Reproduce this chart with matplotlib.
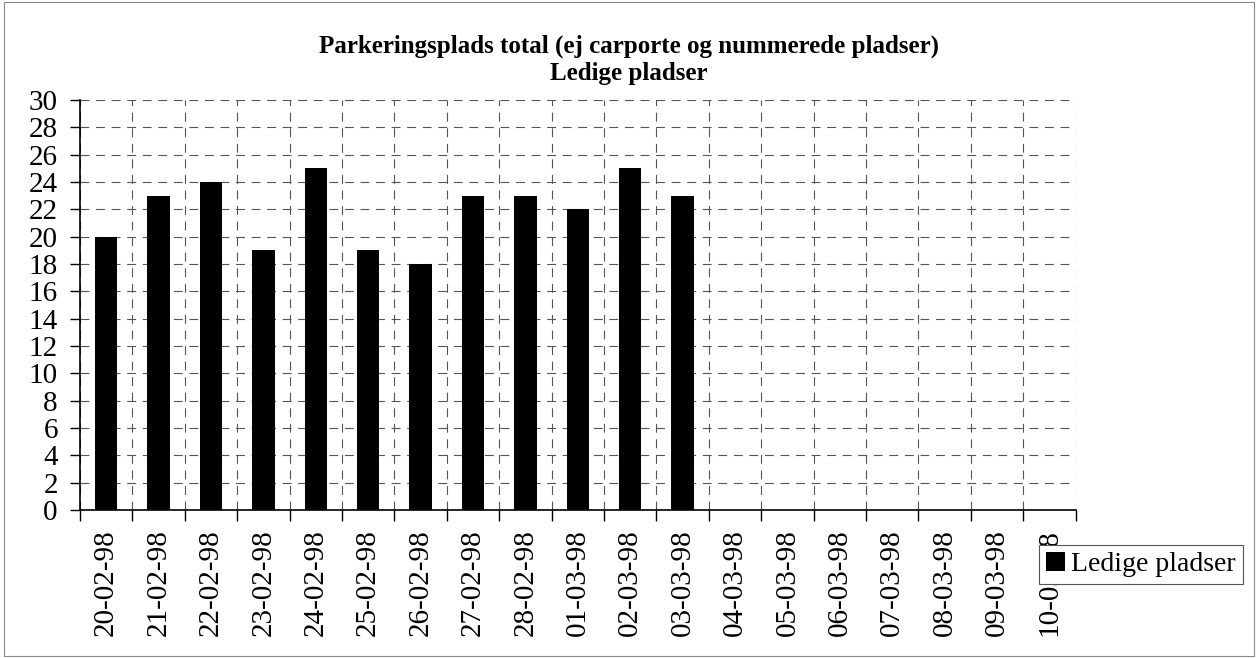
import numpy as np
import matplotlib
matplotlib.use("Agg")
import matplotlib.pyplot as plt
from matplotlib.patches import Rectangle

plt.rcParams['font.family'] = ['Liberation Serif', 'DejaVu Serif']

dates = ['20-02-98', '21-02-98', '22-02-98', '23-02-98', '24-02-98', '25-02-98',
         '26-02-98', '27-02-98', '28-02-98', '01-03-98', '02-03-98', '03-03-98',
         '04-03-98', '05-03-98', '06-03-98', '07-03-98', '08-03-98', '09-03-98',
         '10-03-98']
ledige = [20, 23, 24, 19, 25, 19, 18, 23, 23, 22, 25, 23, 0, 0, 0, 0, 0, 0, 0]
series_name = 'Ledige pladser'

fig = plt.figure(figsize=(12.58, 6.58), dpi=100)
ax = fig.add_axes([0.0636, 0.225, 0.7914, 0.623])

x = np.arange(len(dates))
ax.bar(x, ledige, width=0.43, color='black', label=series_name, zorder=3)

ax.set_xlim(-0.5, len(dates) - 0.5)
ax.set_ylim(0, 30)
ax.set_yticks(np.arange(0, 31, 2))
ax.tick_params(axis='y', labelsize=21, direction='out', length=7, width=1, pad=9)

ax.set_xticks(x)
ax.set_xticklabels(dates, rotation=90, fontsize=21)
ax.tick_params(axis='x', which='major', length=0, pad=14)
ax.set_xticks(np.arange(-0.5, len(dates)), minor=True)
ax.tick_params(axis='x', which='minor', direction='out', length=8, width=1)

# dashed grid: horizontal at y ticks, vertical between categories
ax.grid(True, axis='y', which='major', linestyle=(0, (8, 6)), color='#555555', linewidth=0.8, zorder=0)
ax.grid(True, axis='x', which='minor', linestyle=(0, (8, 6)), color='#555555', linewidth=0.8, zorder=0)

for side in ['top', 'right']:
    ax.spines[side].set_visible(False)
ax.spines['left'].set_linewidth(1.2)
ax.spines['bottom'].set_linewidth(1.2)

fig.text(0.5, 0.929, 'Parkeringsplads total (ej carporte og nummerede pladser)',
         ha='center', va='center', fontsize=18, fontweight='bold')
fig.text(0.5, 0.889, 'Ledige pladser', ha='center', va='center', fontsize=18, fontweight='bold')

leg = fig.legend(loc='center left', bbox_to_anchor=(0.826, 0.142), fontsize=20,
                 frameon=True, fancybox=False, edgecolor='#555555', framealpha=1,
                 handlelength=0.7, handleheight=0.7, handletextpad=0.2, borderpad=0.25,
                 borderaxespad=0)
leg.get_frame().set_linewidth(0.8)

fig.patches.append(Rectangle((0.003, 0.003), 0.994, 0.994, transform=fig.transFigure,
                             fill=False, edgecolor='#888888', linewidth=0.8))

fig.savefig('out.png', dpi=100)
